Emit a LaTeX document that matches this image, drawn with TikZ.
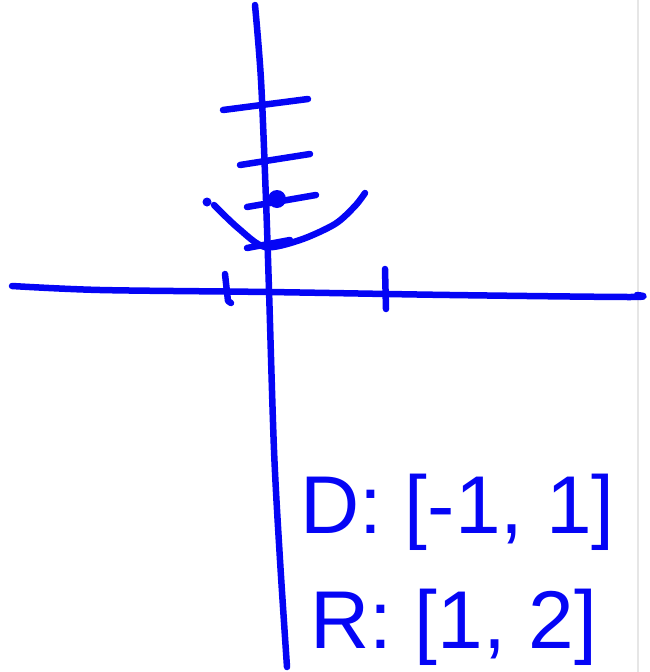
\documentclass[tikz,border=0pt]{standalone}
\usepackage{fontspec}
\setmainfont{Liberation Sans}
\definecolor{InkBlue}{HTML}{0505F5}
\definecolor{EdgeGray}{HTML}{E6E6E6}
\tikzset{
    ink/.style={
        draw=InkBlue,
        line width=6.5pt,
        line cap=round,
        line join=round
    },
    inkdot/.style={
        fill=InkBlue
    },
    inktext/.style={
        text=InkBlue,
        font=\fontsize{82}{82}\selectfont,
        inner sep=0pt,
        anchor=base west
    }
}
\begin{document}
\begin{tikzpicture}[x=1pt, y=-1pt]
        \useasboundingbox (0,0) rectangle (650,672);
        % page edge
        \draw[EdgeGray, line width=1.2pt] (638,0) -- (638,672);

        % axes
        \draw[ink] plot[smooth] coordinates {(255,5) (261,80) (266,200) (269,290) (274,450) (280,560) (287,667)};
        \draw[ink] plot[smooth] coordinates {(12,286) (100,290) (268,292) (450,295) (630,297) (637,295)};

        % ticks on the x axis
        \draw[ink] (225,274) -- (228,301) -- (231,303);
        \draw[ink] (385,269) -- (386,309);

        % ticks on the y axis
        \draw[ink] (223,110) -- (308,99);
        \draw[ink] (240,165) -- (310,154);
        \draw[ink] (247,207) -- (316,195);
        \draw[ink] (247,248) -- (290,240);

        % parabola
        \fill[inkdot] (207,202) circle (4.5);
        \draw[ink] plot[smooth] coordinates {(214,205) (238,228) (265,247) (300,240) (335,224) (355,206) (365,193)};
        \fill[inkdot] (277,199) circle (9);

        % domain and range
        \node[inktext] (dom) at (300,533) {D: [-1, 1]};
        \node[inktext] (ran) at (310,648) {R: [1, 2]};
    \end{tikzpicture}
\end{document}
